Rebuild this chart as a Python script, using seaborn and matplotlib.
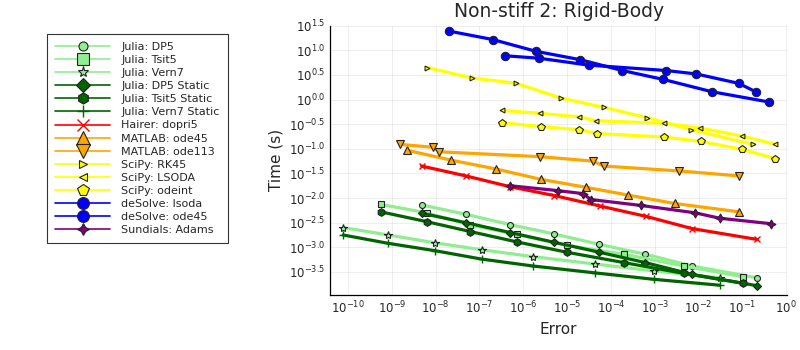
import matplotlib
matplotlib.use("Agg")
import matplotlib.pyplot as plt
import numpy as np
import seaborn as sns

# log10(error), log10(time)
dp5_x = [-8.31, -7.31, -6.30, -5.29, -4.27, -3.22, -2.15, -0.67]
dp5_y = [-2.14, -2.33, -2.54, -2.73, -2.94, -3.14, -3.38, -3.62]
tsit5_x = [-9.25, -8.20, -7.21, -6.15, -5.01, -3.71, -2.34, -0.99]
tsit5_y = [-2.13, -2.30, -2.55, -2.74, -2.96, -3.14, -3.38, -3.60]
vern7_x = [-10.11, -9.08, -8.01, -6.95, -5.78, -4.36, -3.03, -1.52]
vern7_y = [-2.60, -2.75, -2.91, -3.05, -3.19, -3.34, -3.48, -3.62]
dp5s_y = [-2.31, -2.50, -2.70, -2.90, -3.10, -3.31, -3.55, -3.78]
tsit5s_y = [-2.28, -2.48, -2.68, -2.89, -3.10, -3.31, -3.53, -3.73]
vern7s_y = [-2.75, -2.92, -3.07, -3.24, -3.38, -3.52, -3.65, -3.77]

dopri5_x = [-8.32, -7.31, -6.30, -5.29, -4.26, -3.21, -2.15, -0.67]
dopri5_y = [-1.35, -1.55, -1.77, -1.95, -2.16, -2.37, -2.62, -2.84]
ode45m_x = [-8.65, -7.65, -6.62, -5.60, -4.58, -3.61, -2.55, -1.08]
ode45m_y = [-1.03, -1.23, -1.41, -1.62, -1.78, -1.94, -2.11, -2.28]
ode113_x = [-8.81, -8.05, -7.92, -5.61, -4.41, -4.16, -2.44, -1.08]
ode113_y = [-0.91, -0.97, -1.06, -1.16, -1.25, -1.35, -1.45, -1.55]

rk45_x = [-8.19, -7.18, -6.16, -5.14, -4.15, -3.17, -2.18, -0.76]
rk45_y = [0.65, 0.44, 0.33, 0.03, -0.16, -0.37, -0.61, -0.91]
lsoda_x = [-6.48, -5.62, -4.73, -4.34, -2.80, -1.96, -1.01, -0.25]
lsoda_y = [-0.22, -0.28, -0.35, -0.43, -0.48, -0.58, -0.74, -0.91]
odeint_x = [-6.48, -5.60, -4.72, -4.32, -2.79, -1.95, -1.01, -0.25]
odeint_y = [-0.47, -0.55, -0.61, -0.69, -0.76, -0.85, -1.01, -1.20]

ds_lsoda_x = [-7.69, -6.70, -5.71, -4.70, -3.74, -2.81, -1.70, -0.39]
ds_lsoda_y = [1.39, 1.22, 0.98, 0.81, 0.59, 0.41, 0.16, -0.05]
ds_ode45_x = [-6.42, -5.64, -4.51, -2.74, -2.05, -1.09, -0.70]
ds_ode45_y = [0.89, 0.84, 0.70, 0.59, 0.52, 0.33, 0.16]

adams_x = [-6.30, -5.20, -4.64, -4.46, -3.32, -2.08, -1.52, -0.36]
adams_y = [-1.75, -1.85, -1.91, -2.03, -2.15, -2.30, -2.41, -2.52]

series = [
    ("Julia: DP5", dp5_x, dp5_y, "#90EE90", "o", 4.3, 6.5),
    ("Julia: Tsit5", tsit5_x, tsit5_y, "#90EE90", "s", 5.0, 8.5),
    ("Julia: Vern7", vern7_x, vern7_y, "#90EE90", "*", 6.0, 8.0),
    ("Julia: DP5 Static", dp5_x, dp5s_y, "#006400", "D", 4.3, 7.0),
    ("Julia: Tsit5 Static", tsit5_x, tsit5s_y, "#006400", "h", 5.5, 8.0),
    ("Julia: Vern7 Static", vern7_x, vern7s_y, "#006400", "+", 6.0, 9.0),
    ("Hairer: dopri5", dopri5_x, dopri5_y, "#FF0000", "x", 5.0, 9.0),
    ("MATLAB: ode45", ode45m_x, ode45m_y, "#FFA500", "^", 6.0, 10.0),
    ("MATLAB: ode113", ode113_x, ode113_y, "#FFA500", "v", 6.0, 10.0),
    ("SciPy: RK45", rk45_x, rk45_y, "#FFFF00", ">", 3.5, 6.0),
    ("SciPy: LSODA", lsoda_x, lsoda_y, "#FFFF00", "<", 3.5, 6.0),
    ("SciPy: odeint", odeint_x, odeint_y, "#FFFF00", "p", 5.5, 8.5),
    ("deSolve: lsoda", ds_lsoda_x, ds_lsoda_y, "#0000FF", "o", 6.0, 8.5),
    ("deSolve: ode45", ds_ode45_x, ds_ode45_y, "#0000FF", "o", 6.0, 8.5),
    ("Sundials: Adams", adams_x, adams_y, "#800080", (4, 1, 0), 6.5, 8.5),
]

sns.set_style("white")
plt.rcParams["font.family"] = ["DejaVu Sans"]

fig = plt.figure(figsize=(8, 3.5), dpi=100, facecolor="w")
ax = fig.add_axes([0.4125, 0.157, 0.5715, 0.7695])

for name, xs, ys, col, mk, ms, _ in series:
    edge = col if mk in ("x", "+") else "#222222"
    sns.lineplot(x=10 ** np.array(xs), y=10 ** np.array(ys), ax=ax, color=col,
                 marker=mk, markersize=ms, markeredgecolor=edge,
                 markeredgewidth=0.8 if mk not in ("x", "+") else 1.0,
                 linewidth=2.3, label=name, sort=False, estimator=None)

ax.set_xscale("log")
ax.set_yscale("log")
ax.set_xlim(10 ** -10.41, 10 ** 0.02)
ax.set_ylim(10 ** -3.97, 10 ** 1.5)

xt = np.arange(-10, 1)
ax.set_xticks(10.0 ** xt)
ax.set_xticklabels([r"$10^{%d}$" % v for v in xt])
yt = np.arange(-3.5, 2.0, 0.5)
ax.set_yticks(10.0 ** yt)
ax.set_yticklabels([r"$10^{%.1f}$" % v for v in yt])
ax.minorticks_off()
ax.tick_params(direction="in", length=3, labelsize=8.5, width=0.8)

ax.grid(True, color="#000000", alpha=0.08, linewidth=0.6)
for s in ["top", "right"]:
    ax.spines[s].set_visible(False)
for s in ["left", "bottom"]:
    ax.spines[s].set_color("black")
    ax.spines[s].set_linewidth(0.9)

ax.set_title("Non-stiff 2: Rigid-Body", fontsize=13.5, pad=6)
ax.set_xlabel("Error", fontsize=11)
ax.set_ylabel("Time (s)", fontsize=11)

leg = ax.legend(loc="upper left", bbox_to_anchor=(47 / 800, 1 - 34 / 350),
                bbox_transform=fig.transFigure, fontsize=8, frameon=True,
                fancybox=False, handlelength=5.0, labelspacing=0.28,
                borderpad=0.7, handletextpad=1.0, borderaxespad=0)
leg.get_frame().set_edgecolor("black")
leg.get_frame().set_linewidth(0.8)
for h, s in zip(leg.legend_handles, series):
    h.set_markersize(s[6])
    h.set_linewidth(1.2)

fig.savefig("out.png", dpi=100)
